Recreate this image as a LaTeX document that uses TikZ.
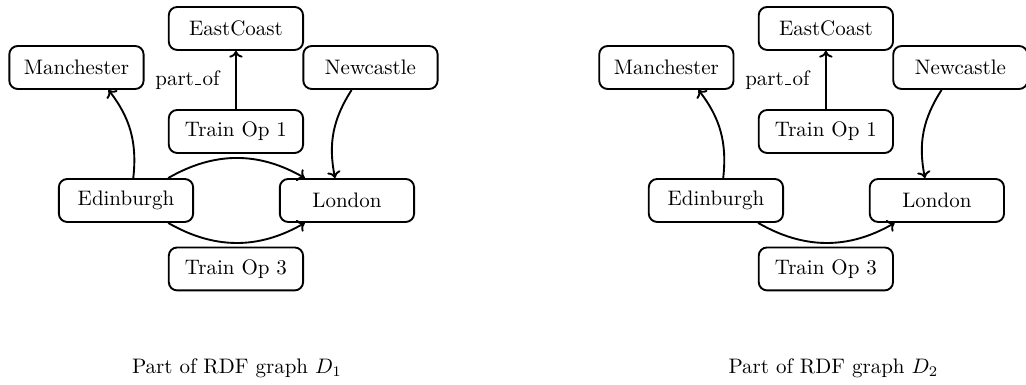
\documentclass[tikz,border=0pt]{standalone}
\usetikzlibrary{positioning,arrows.meta}

\newcommand{\uscore}{\kern.06em\vbox{\hrule width.3em height.45pt}\kern.06em}

\begin{document}
\begin{tikzpicture}[
    res/.style={draw, rounded corners=4pt, minimum width=2.25cm, minimum height=0.72cm},
    every path/.style={line width=0.9pt},
    >={To[length=3.2pt,width=6.4pt]}
  ]
  \useasboundingbox (0,0) rectangle (17.19,-6.45);

  % graph D1
  \node[res] (EastA)  at (3.953,-0.477) {EastCoast};
  \node[res] (ManA)   at (1.281,-1.131) {Manchester};
  \node[res] (NewA)   at (6.207,-1.131) {Newcastle};
  \node[res] (OneA)   at (3.953,-2.203) {Train Op 1};
  \node[res] (EdiA)   at (2.111,-3.359) {Edinburgh};
  \node[res] (LonA)   at (5.813,-3.359) {London};
  \node[res] (ThreeA) at (3.953,-4.506) {Train Op 3};
  \node (CapA) at (3.97,-6.165) {Part of RDF graph $D_1$};

  \draw[->] (EdiA.72) to[bend right=22] (ManA.-35);
  \draw[->] (NewA.-130) to[bend right=22] (LonA.118);
  \draw[->] (OneA) to node [left=4pt] {part\uscore of} (EastA);
  \draw[->] (EdiA.28) to[bend left=30] (LonA.152);
  \draw[->] (EdiA.-28) to[bend right=30] (LonA.-152);

  % graph D2
  \begin{scope}[xshift=9.884cm]
    \node[res] (EastB)  at (3.953,-0.477) {EastCoast};
    \node[res] (ManB)   at (1.281,-1.131) {Manchester};
    \node[res] (NewB)   at (6.207,-1.131) {Newcastle};
    \node[res] (OneB)   at (3.953,-2.203) {Train Op 1};
    \node[res] (EdiB)   at (2.111,-3.359) {Edinburgh};
    \node[res] (LonB)   at (5.813,-3.359) {London};
    \node[res] (ThreeB) at (3.953,-4.506) {Train Op 3};
    \node (CapB) at (4.08,-6.165) {Part of RDF graph $D_2$};

    \draw[->] (EdiB.72) to[bend right=22] (ManB.-35);
    \draw[->] (NewB.-130) to[bend right=22] (LonB.118);
    \draw[->] (OneB) to node [left=4pt] {part\uscore of} (EastB);
    \draw[->] (EdiB.-28) to[bend right=30] (LonB.-152);
  \end{scope}
\end{tikzpicture}
\end{document}
